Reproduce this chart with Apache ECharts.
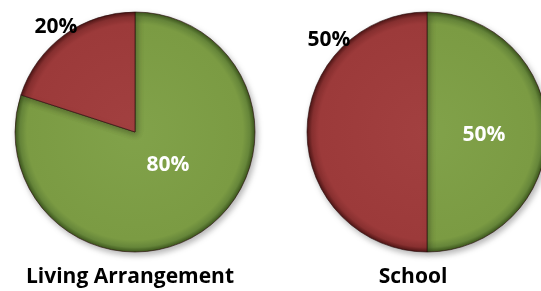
<!DOCTYPE html>
<html>
<head>
<meta charset="utf-8">
<script src="https://cdn.jsdelivr.net/npm/echarts@6/dist/echarts.min.js"></script>
<style>
  html, body { margin: 0; padding: 0; background: #fff; }
  #chart { width: 541px; height: 291px; }
</style>
</head>
<body>
<div id="chart"></div>
<script>
// data
const chartNames = ['Living Arrangement', 'School'];
const sliceNames = ['Group 1', 'Group 2'];
const livingValues = [80, 20];
const schoolValues = [50, 50];

const chart = echarts.init(document.getElementById('chart'));

// pie geometry (pixels)
const centers = [[135, 132], [427, 132]];
const R = 120;
// small nudges from the default inside label spot
const labelNudge = [
  [[-4, -18], [-42, -54]],
  [[-6, 3], [-35, -92]]
];

function bevel(cx, cy, stops) {
  return new echarts.graphic.RadialGradient(cx, cy, R, stops, true);
}

function sliceStyle(cx, cy, i) {
  if (i === 0) {
    return {
      color: bevel(cx, cy, [
        { offset: 0, color: '#81a24a' },
        { offset: 0.9, color: '#7b9b43' },
        { offset: 0.96, color: '#66863a' },
        { offset: 1, color: '#3c561d' }
      ])
    };
  }
  return {
    color: bevel(cx, cy, [
      { offset: 0, color: '#a24040' },
      { offset: 0.9, color: '#9c3a3a' },
      { offset: 0.96, color: '#883030' },
      { offset: 1, color: '#4e1515' }
    ])
  };
}

function makeSeries(values, si) {
  const [cx, cy] = centers[si];
  return {
    type: 'pie',
    center: [cx, cy],
    radius: R,
    startAngle: 90,
    clockwise: true,
    avoidLabelOverlap: false,
    silent: true,
    itemStyle: {
      borderColor: 'rgba(40,10,10,0.6)',
      borderWidth: 1,
      shadowBlur: 6,
      shadowColor: 'rgba(0,0,0,0.3)',
      shadowOffsetX: 2,
      shadowOffsetY: 3
    },
    label: {
      show: true,
      position: 'inside',
      formatter: '{d}%',
      fontFamily: 'Open Sans',
      fontWeight: 'bold',
      fontSize: 21
    },
    labelLine: { show: false },
    labelLayout: p => ({
      dx: labelNudge[si][p.dataIndex][0],
      dy: labelNudge[si][p.dataIndex][1]
    }),
    data: values.map((v, i) => ({
      name: sliceNames[i],
      value: v,
      itemStyle: sliceStyle(cx, cy, i),
      label: { color: i === 0 ? '#ffffff' : '#000000' }
    }))
  };
}

const option = {
  animation: false,
  title: [
    { text: chartNames[0], left: 130, top: 267, textAlign: 'center' },
    { text: chartNames[1], left: 413, top: 267, textAlign: 'center' }
  ].map(t => Object.assign(t, {
    textStyle: { fontFamily: 'Open Sans', fontWeight: 'bold', fontSize: 21, color: '#000' },
    padding: 0
  })),
  series: [makeSeries(livingValues, 0), makeSeries(schoolValues, 1)]
};

chart.setOption(option);
</script>
</body>
</html>
